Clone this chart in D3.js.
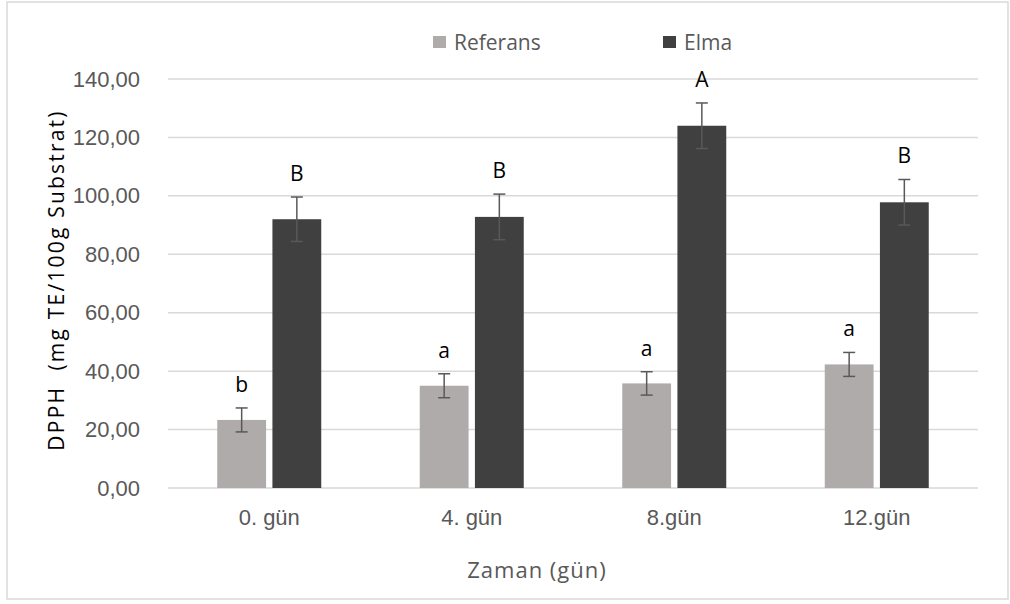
<!DOCTYPE html>
<html>
<head>
<meta charset="utf-8">
<script src="https://cdn.jsdelivr.net/npm/d3@7"></script>
<style>
  html, body { margin: 0; padding: 0; background: #fff; }
  svg { display: block; font-family: "Open Sans", "Noto Sans", sans-serif; }
  text { white-space: pre; }
</style>
</head>
<body>
<svg id="chart" width="1010" height="604"></svg>
<script>
// DPPH activity per sampling day, reference vs. apple-enriched product
const categories = ["0. gün", "4. gün", "8.gün", "12.gün"];
const seriesNames = ["Referans", "Elma"];
const referansValues = [23.3, 35.0, 35.8, 42.3];
const referansErrors = [4.1, 4.1, 4.0, 4.1];
const elmaValues = [92.0, 92.8, 124.0, 97.8];
const elmaErrors = [7.6, 7.8, 7.8, 7.8];
const referansLetters = ["b", "a", "a", "a"];
const elmaLetters = ["B", "B", "A", "B"];
const yTicks = [0, 20, 40, 60, 80, 100, 120, 140];
const yTitle = "DPPH  (mg TE/100g Substrat)";
const xTitle = "Zaman (gün)";

const colors = { Referans: "#afabab", Elma: "#404040" };

const svg = d3.select("#chart");
const margin = { left: 168, right: 32, top: 79, bottom: 116 };
const W = 1010, H = 604;
const plotW = W - margin.left - margin.right;
const plotH = H - margin.top - margin.bottom;

// outer chart frame
svg.append("rect")
  .attr("x", 7).attr("y", 2).attr("width", 1001).attr("height", 597)
  .attr("fill", "#fff").attr("stroke", "#d9d9d9").attr("stroke-width", 1.5);

const g = svg.append("g").attr("transform", `translate(${margin.left},${margin.top})`);

const x0 = d3.scaleBand().domain(categories).range([0, plotW]).paddingInner(0).paddingOuter(0);
const x1 = d3.scaleBand().domain(seriesNames).range([0, 104]).paddingInner(0.115);
const groupOffset = (x0.bandwidth() - 104) / 2;
const y = d3.scaleLinear().domain([0, 140]).range([plotH, 0]);

// horizontal gridlines
g.append("g")
  .selectAll("line")
  .data(yTicks)
  .join("line")
  .attr("x1", 0).attr("x2", plotW)
  .attr("y1", d => y(d)).attr("y2", d => y(d))
  .attr("stroke", "#d9d9d9").attr("stroke-width", 1.5);

// y axis tick labels
const yAxis = d3.axisLeft(y).tickValues(yTicks).tickSize(0).tickPadding(28)
  .tickFormat(d => d3.format(".2f")(d).replace(".", ","));
const yAxisG = g.append("g").call(yAxis);
yAxisG.select(".domain").remove();
yAxisG.selectAll("text").attr("fill", "#595959").style("font-size", "22px");

// x axis category labels
const xAxis = d3.axisBottom(x0).tickSize(0).tickPadding(21);
const xAxisG = g.append("g").attr("transform", `translate(0,${plotH})`).call(xAxis);
xAxisG.select(".domain").remove();
xAxisG.selectAll("text").attr("fill", "#595959").style("font-size", "22px");

const rows = categories.map((c, i) => ({
  cat: c,
  items: [
    { s: "Referans", v: referansValues[i], e: referansErrors[i], l: referansLetters[i] },
    { s: "Elma", v: elmaValues[i], e: elmaErrors[i], l: elmaLetters[i] }
  ]
}));

const groups = g.selectAll(".grp").data(rows).join("g")
  .attr("class", "grp")
  .attr("transform", d => `translate(${x0(d.cat) + groupOffset},0)`);

const items = groups.selectAll(".item").data(d => d.items).join("g").attr("class", "item");

items.append("rect")
  .attr("x", d => x1(d.s))
  .attr("width", x1.bandwidth())
  .attr("y", d => y(d.v))
  .attr("height", d => y(0) - y(d.v))
  .attr("fill", d => colors[d.s]);

// error bars
const cx = d => x1(d.s) + x1.bandwidth() / 2;
items.append("line")
  .attr("x1", cx).attr("x2", cx)
  .attr("y1", d => y(d.v + d.e)).attr("y2", d => y(d.v - d.e))
  .attr("stroke", "#595959").attr("stroke-width", 1.5);
items.append("line")
  .attr("x1", d => cx(d) - 6).attr("x2", d => cx(d) + 6)
  .attr("y1", d => y(d.v + d.e)).attr("y2", d => y(d.v + d.e))
  .attr("stroke", "#595959").attr("stroke-width", 1.5);
items.append("line")
  .attr("x1", d => cx(d) - 6).attr("x2", d => cx(d) + 6)
  .attr("y1", d => y(d.v - d.e)).attr("y2", d => y(d.v - d.e))
  .attr("stroke", "#595959").attr("stroke-width", 1.5);

// significance letters
items.append("text")
  .attr("x", cx)
  .attr("y", d => y(d.v + d.e) - 16)
  .attr("text-anchor", "middle")
  .attr("fill", "#000")
  .style("font-size", "21px")
  .text(d => d.l);

// axis titles
svg.append("text")
  .attr("transform", `translate(64,280) rotate(-90)`)
  .attr("text-anchor", "middle")
  .attr("fill", "#000")
  .style("font-size", "21px")
  .style("letter-spacing", "2.2px")
  .text(yTitle);

svg.append("text")
  .attr("x", 537).attr("y", 578)
  .attr("text-anchor", "middle")
  .attr("fill", "#595959")
  .style("font-size", "22px")
  .style("letter-spacing", "1px")
  .text(xTitle);

// legend
const legend = svg.append("g");
const legendX = [433, 663];
seriesNames.forEach((s, i) => {
  legend.append("rect")
    .attr("x", legendX[i]).attr("y", 36).attr("width", 13).attr("height", 12)
    .attr("fill", colors[s]);
  legend.append("text")
    .attr("x", legendX[i] + 21).attr("y", 50)
    .attr("fill", "#595959")
    .style("font-size", "21px")
    .text(s);
});
</script>
</body>
</html>
